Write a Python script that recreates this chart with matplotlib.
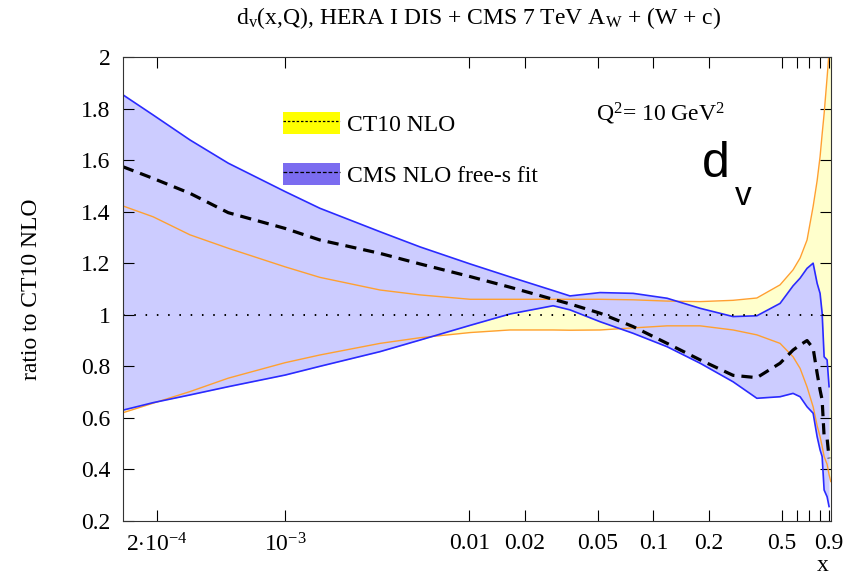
"""
d_v ratio plot: CMS NLO free-s fit vs CT10 NLO at Q^2 = 10 GeV^2
"""

import matplotlib
matplotlib.use('Agg')
import matplotlib.pyplot as plt
from matplotlib.patches import Patch
from matplotlib.lines import Line2D

plt.rcParams['font.family'] = ['Liberation Serif', 'DejaVu Serif']
plt.rcParams['mathtext.fontset'] = 'custom'
plt.rcParams['mathtext.rm'] = 'Liberation Serif'
plt.rcParams['mathtext.it'] = 'Liberation Serif:italic'

# x grid
x_cms = [1.31e-4, 1.91e-4, 3.03e-4, 4.89e-4, 9.95e-4, 1.54e-3, 3.27e-3, 5.4e-3,
         1.01e-2, 1.66e-2, 2.85e-2, 3.52e-2, 5.13e-2, 7.76e-2, 0.1187, 0.1794,
         0.271, 0.365, 0.488, 0.574, 0.627, 0.684, 0.738, 0.776, 0.805, 0.826,
         0.847, 0.879, 0.901]

cms_up = [1.853, 1.775, 1.678, 1.588, 1.478, 1.413, 1.322, 1.263,
          1.197, 1.147, 1.094, 1.073, 1.086, 1.083, 1.064, 1.025,
          0.993, 0.996, 1.044, 1.112, 1.142, 1.18, 1.20, 1.122, 1.083, 1.007,
          0.837, 0.825, 0.721]
cms_low = [0.63, 0.659, 0.689, 0.721, 0.766, 0.80, 0.857, 0.902,
           0.959, 1.003, 1.035, 1.019, 0.973, 0.928, 0.876, 0.812,
           0.74, 0.676, 0.682, 0.695, 0.682, 0.643, 0.618, 0.527, 0.476, 0.45,
           0.32, 0.294, 0.256]
cms_central = [1.574, 1.529, 1.471, 1.396, 1.335, 1.29, 1.238, 1.197,
               1.148, 1.107, 1.06, 1.042, 1.006, 0.954, 0.889, 0.825,
               0.765, 0.756, 0.812, 0.863, 0.883, 0.90, 0.87, 0.773, 0.708, 0.67,
               0.527, 0.521, 0.443]

x_ct = x_cms + [0.92]
ct_up = [1.422, 1.38, 1.31, 1.258, 1.186, 1.145, 1.096, 1.077,
         1.06, 1.06, 1.06, 1.06, 1.06, 1.058, 1.053, 1.051,
         1.056, 1.065, 1.116, 1.174, 1.22, 1.29, 1.42, 1.52, 1.613, 1.70,
         1.78, 1.92, 2.02, 2.3]
ct_low = [0.62, 0.657, 0.702, 0.754, 0.814, 0.844, 0.889, 0.911,
          0.931, 0.941, 0.941, 0.94, 0.941, 0.949, 0.957, 0.957,
          0.941, 0.922, 0.889, 0.837, 0.792, 0.72, 0.643, 0.57, 0.527, 0.49,
          0.45, 0.42, 0.38, 0.353]

xticks = [2e-4, 1e-3, 0.01, 0.02, 0.05, 0.1, 0.2, 0.5, 0.6, 0.7, 0.8, 0.9]
xticklabels = [r'2$\cdot$10$^{-4}$', r'10$^{-3}$', '0.01', '0.02', '0.05', '0.1',
               '0.2', '0.5', '', '', '', '0.9']
yticks = [0.2, 0.4, 0.6, 0.8, 1.0, 1.2, 1.4, 1.6, 1.8, 2.0]
yticklabels = ['0.2', '0.4', '0.6', '0.8', '1', '1.2', '1.4', '1.6', '1.8', '2']

fig = plt.figure(figsize=(8.53, 5.79), dpi=100)
ax = fig.add_axes([0.1442, 0.1002, 0.8297, 0.8014])

# Bands
ax.fill_between(x_ct, ct_low, ct_up, color='#ffffcc', lw=0)
ax.fill_between(x_cms, cms_low, cms_up, color='#ccccff', lw=0)
ax.plot(x_ct, ct_up, color='#ffa030', lw=1.0)
ax.plot(x_ct, ct_low, color='#ffa030', lw=1.0)
ax.plot(x_cms, cms_up, color='#2a2aff', lw=1.2)
ax.plot(x_cms, cms_low, color='#2a2aff', lw=1.2)
ax.plot(x_cms, cms_central, color='black', lw=2.3, ls=(0, (3.5, 2.2)))
ax.axhline(1.0, color='black', lw=1.4, ls=(0, (0.8, 5)))

ax.set_xscale('log')
ax.set_xlim(1.31e-4, 0.92)
ax.set_ylim(0.2, 2.0)
ax.set_xticks(xticks)
ax.set_xticklabels(xticklabels)
ax.xaxis.set_minor_locator(matplotlib.ticker.NullLocator())
ax.set_yticks(yticks)
ax.set_yticklabels(yticklabels)
ax.tick_params(direction='in', length=8, width=0.8, top=True, right=True,
               labelsize=17, pad=9)
for s in ax.spines.values():
    s.set_linewidth(0.8)
    s.set_color('#333333')

ax.set_ylabel('ratio to CT10 NLO', fontsize=17, labelpad=28)
ax.text(0.989, -0.074, 'x', transform=ax.transAxes, fontsize=17, ha='center',
        va='top')

fig.text(0.561, 0.968, r'd$_{\rm v}$(x,Q), HERA I DIS + CMS 7 TeV A$_{\rm W}$ + (W + c)',
         ha='center', va='center', fontsize=17)

ax.text(0.669, 0.878, r'Q$^2$= 10 GeV$^2$', transform=ax.transAxes, fontsize=17,
        ha='left', va='center')
ax.text(0.818, 0.77, 'd', transform=ax.transAxes, fontsize=36,
        family='Liberation Sans', ha='left', va='center')
ax.text(0.864, 0.70, 'v', transform=ax.transAxes, fontsize=24,
        family='Liberation Sans', ha='left', va='center')

# Legend
handles = [(Patch(facecolor='#ffff00', edgecolor='none'),
            Line2D([], [], color='black', lw=0.9, ls=(0, (2, 1.5)))),
           (Patch(facecolor='#7b6cf0', edgecolor='none'),
            Line2D([], [], color='black', lw=0.9, ls=(0, (3, 1.5))))]
ax.legend(handles, ['CT10 NLO', 'CMS NLO free-s fit'], loc='upper left',
          bbox_to_anchor=(0.226, 0.882), frameon=False, fontsize=17,
          handlelength=2.4, handleheight=1.06, labelspacing=1.15,
          handletextpad=0.3, borderpad=0, borderaxespad=0)

plt.savefig('out.png', dpi=100)
plt.close()
